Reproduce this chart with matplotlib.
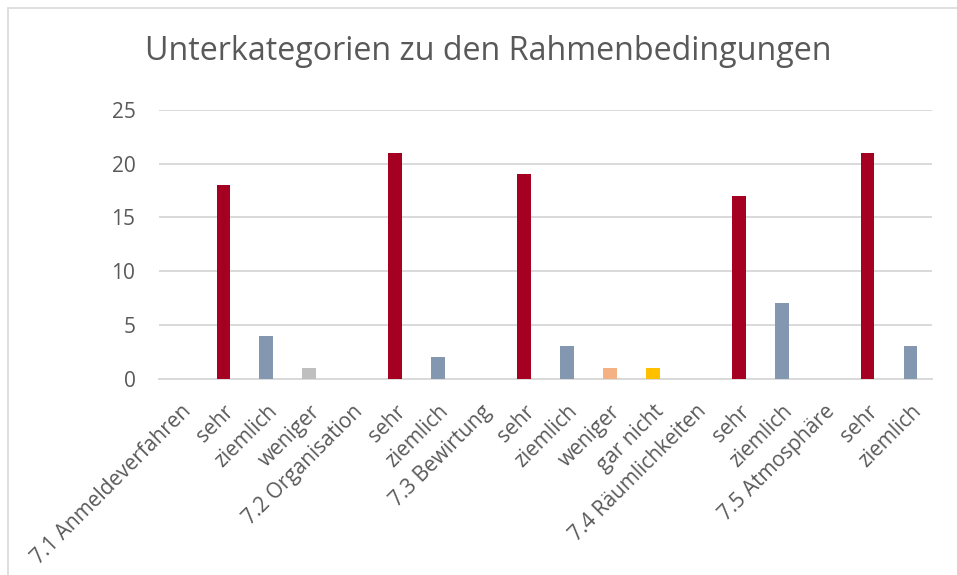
import matplotlib.pyplot as plt
from matplotlib.patches import Rectangle

# categories along the x axis (group headers have no bar)
labels = ['7.1 Anmeldeverfahren', 'sehr', 'ziemlich', 'weniger',
          '7.2 Organisation', 'sehr', 'ziemlich',
          '7.3 Bewirtung', 'sehr', 'ziemlich', 'weniger', 'gar nicht',
          '7.4 Räumlichkeiten', 'sehr', 'ziemlich',
          '7.5 Atmosphäre', 'sehr', 'ziemlich']
values = [0, 18, 4, 1,
          0, 21, 2,
          0, 19, 3, 1, 1,
          0, 17, 7,
          0, 21, 3]
bar_colors = ['#A50021', '#A50021', '#8497B0', '#BFBFBF',
              '#A50021', '#A50021', '#8497B0',
              '#A50021', '#A50021', '#8497B0', '#F4B183', '#FFC000',
              '#A50021', '#A50021', '#8497B0',
              '#A50021', '#A50021', '#8497B0']
yticks = [0, 5, 10, 15, 20, 25]

text_color = '#595959'
plt.rcParams['font.family'] = ['Open Sans', 'DejaVu Sans']

fig = plt.figure(figsize=(9.57, 5.75), dpi=100)
# chart frame like the office chart border
fig.patches.append(Rectangle((8 / 957, -0.05), 1.1, 1 - 8 / 575 + 0.05,
                             transform=fig.transFigure, fill=False,
                             edgecolor='#D9D9D9', linewidth=1.2))

ax = fig.add_axes([159 / 957, 1 - 378.7 / 575, (932 - 159) / 957, (378.7 - 110) / 575])
x = list(range(len(labels)))
ax.bar(x, values, width=0.32, color=bar_colors, zorder=3)

ax.set_xlim(-0.5, len(labels) - 0.5)
ax.set_ylim(0, 25)
ax.set_yticks(yticks)
ax.set_yticklabels([str(v) for v in yticks], fontsize=15, color=text_color)
ax.yaxis.grid(True, color='#D9D9D9', linewidth=1.4, zorder=0)
ax.tick_params(axis='y', length=0, pad=17)
ax.set_xticks(x)
ax.set_xticklabels(labels, rotation=45, ha='right', rotation_mode='anchor',
                   fontsize=15, color=text_color)
ax.tick_params(axis='x', length=0, pad=16)
for s in ['top', 'right', 'left']:
    ax.spines[s].set_visible(False)
ax.spines['bottom'].set_color('#D9D9D9')
ax.spines['bottom'].set_linewidth(1.4)

fig.text(488 / 957, 1 - 52 / 575, 'Unterkategorien zu den Rahmenbedingungen',
         ha='center', va='center', fontsize=23.2, color=text_color)

fig.savefig('out.png', dpi=100)
